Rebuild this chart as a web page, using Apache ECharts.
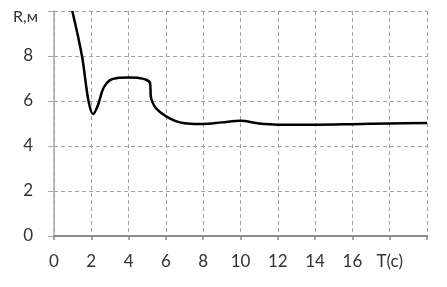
<!DOCTYPE html>
<html><head><meta charset="utf-8">
<script src="https://cdn.jsdelivr.net/npm/echarts@6/dist/echarts.min.js"></script>
<style>html,body{margin:0;padding:0;background:#fff}#c{width:447px;height:287px}</style>
</head><body><div id="c"></div>
<script>
var times = [0.98, 1.5, 1.85, 2.1, 2.35, 2.65, 3.0, 3.5, 4.0, 4.5, 4.9, 5.15, 5.2, 5.4, 5.7, 6.2, 6.75, 7.3, 8, 9, 10, 11, 12, 14, 16, 18, 20];
var radius = [10, 8, 6, 5.42, 5.8, 6.58, 6.93, 7.03, 7.05, 7.03, 6.96, 6.8, 6.15, 5.75, 5.5, 5.23, 5.05, 4.99, 4.98, 5.05, 5.12, 5.0, 4.95, 4.95, 4.97, 5.0, 5.02];
var xTickLabels = {0:'0',2:'2',4:'4',6:'6',8:'8',10:'10',12:'12',14:'14',16:'16',18:'T(c)',20:''};
var yTickLabels = {0:'0',2:'2',4:'4',6:'6',8:'8',10:'R,м'};

var pts = times.map(function(t,i){return [t, radius[i]];});
var chart = echarts.init(document.getElementById('c'));
var font = 'Lato';
var fs = 17;
chart.setOption({
  animation:false,
  grid:{left:54,right:20,top:11,bottom:51},
  xAxis:{type:'value',min:0,max:20,interval:2,
    axisLine:{show:true,lineStyle:{color:'#8a8a8a',width:2}},
    axisTick:{show:true,length:4,lineStyle:{color:'#8a8a8a',width:1.5}},
    splitLine:{show:true,lineStyle:{color:'#a0a0a0',type:[4,3],width:1}},
    axisLabel:{margin:17,fontFamily:font,fontSize:fs,color:'#333',
      formatter:function(v){return xTickLabels[v]!==undefined?xTickLabels[v]:'';}}
  },
  yAxis:{type:'value',min:0,max:10,interval:2,
    axisLine:{show:true,lineStyle:{color:'#a8a8a8',width:1.5}},
    axisTick:{show:true,length:6,lineStyle:{color:'#a8a8a8',width:1}},
    splitLine:{show:true,lineStyle:{color:'#a0a0a0',type:[4,3],width:1}},
    axisLabel:{margin:16,fontFamily:font,fontSize:fs,color:'#333',align:'right',
      formatter:function(v){var s=yTickLabels[v]; if(s===undefined) return ''; return v===10?'{r|'+s+'}':'{d|'+s+'}';},
      rich:{d:{fontFamily:font,fontSize:fs,color:'#333',padding:[0,5,0,0]},r:{fontFamily:font,fontSize:16,color:'#333',padding:[12,0,0,0]}}
    }
  },
  series:[{type:'line',data:pts,smooth:0.35,showSymbol:false,
    lineStyle:{color:'#000',width:2.5},clip:true}]
});
</script></body></html>
